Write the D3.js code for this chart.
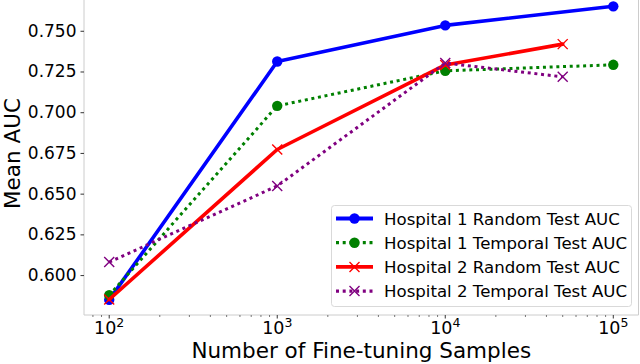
<!DOCTYPE html>
<html>
<head>
<meta charset="utf-8">
<script src="https://cdn.jsdelivr.net/npm/d3@7"></script>
<style>
  html, body { margin: 0; padding: 0; background: #fff; }
  svg text { font-family: "DejaVu Sans", sans-serif; fill: #000; }
</style>
</head>
<body>
<div id="viz"></div>
<script>
"use strict";

// samples used for fine-tuning
var samplesH1 = [100, 1000, 10000, 100000];
var samplesH2 = [100, 1000, 10000, 50000];

// mean AUC
var h1Random = [0.5848, 0.7311, 0.7533, 0.7650];
var h1Temporal = [0.5876, 0.7039, 0.7254, 0.7291];
var h2Random = [0.5850, 0.6771, 0.7290, 0.7418];
var h2Temporal = [0.6080, 0.6547, 0.7302, 0.7217];

var seriesNames = [
	"Hospital 1 Random Test AUC",
	"Hospital 1 Temporal Test AUC",
	"Hospital 2 Random Test AUC",
	"Hospital 2 Temporal Test AUC"
];

var yTicks = [0.600, 0.625, 0.650, 0.675, 0.700, 0.725, 0.750];
var xTicks = [100, 1000, 10000, 100000];

var width = 640,
	height = 364,
	plotLeft = 84,
	plotRight = 638.5,
	plotTop = -8,
	plotBottom = 315;

var svg = d3.select("#viz")
	.append("svg")
	.attr("width", width)
	.attr("height", height);

var x = d3.scaleLog()
	.domain([Math.pow(10, 1.85), Math.pow(10, 5.15)])
	.range([plotLeft, plotRight]);

var y = d3.scaleLinear()
	.domain([0.5755, 0.7738])
	.range([plotBottom, plotTop]);

var series = [
	{ name: seriesNames[0], xs: samplesH1, ys: h1Random, color: "#0000ff", dotted: false, marker: "o" },
	{ name: seriesNames[1], xs: samplesH1, ys: h1Temporal, color: "#008000", dotted: true, marker: "o" },
	{ name: seriesNames[2], xs: samplesH2, ys: h2Random, color: "#ff0000", dotted: false, marker: "x" },
	{ name: seriesNames[3], xs: samplesH2, ys: h2Temporal, color: "#800080", dotted: true, marker: "x" }
];

// spines
var spineColor = "#cccccc";
svg.append("line")
	.attr("x1", plotLeft).attr("x2", plotLeft)
	.attr("y1", plotTop).attr("y2", plotBottom)
	.attr("stroke", spineColor).attr("stroke-width", 1);
svg.append("line")
	.attr("x1", plotLeft).attr("x2", plotRight)
	.attr("y1", plotBottom).attr("y2", plotBottom)
	.attr("stroke", spineColor).attr("stroke-width", 1);
svg.append("line")
	.attr("x1", plotRight).attr("x2", plotRight)
	.attr("y1", plotTop).attr("y2", plotBottom)
	.attr("stroke", spineColor).attr("stroke-width", 1);

// y axis
var yAxis = svg.append("g")
	.attr("transform", "translate(" + plotLeft + ",0)")
	.call(d3.axisLeft(y).tickValues(yTicks).tickSize(3.5).tickPadding(4)
		.tickFormat(d3.format(".3f")));
yAxis.select(".domain").remove();
yAxis.selectAll(".tick line").attr("stroke", "#333");
yAxis.selectAll(".tick text")
	.attr("font-size", "17px")
	.attr("font-family", "DejaVu Sans")
	.attr("fill", "#000");

// x axis: minor ticks
var minorTicks = [];
[10, 100, 1000, 10000, 100000].forEach(function(decade) {
	for (var k = 2; k <= 9; k++) {
		var v = decade * k;
		if (x(v) > plotLeft && x(v) < plotRight) minorTicks.push(v);
	}
});

svg.append("g").selectAll("line")
	.data(minorTicks)
	.enter()
	.append("line")
	.attr("x1", function(d) { return x(d); })
	.attr("x2", function(d) { return x(d); })
	.attr("y1", plotBottom)
	.attr("y2", plotBottom + 2)
	.attr("stroke", "#555")
	.attr("stroke-width", 0.8);

var xMajor = svg.append("g").selectAll("g")
	.data(xTicks)
	.enter()
	.append("g")
	.attr("transform", function(d) { return "translate(" + x(d) + "," + plotBottom + ")"; });

xMajor.append("line")
	.attr("y1", 0).attr("y2", 3.5)
	.attr("stroke", "#333").attr("stroke-width", 1);

var xLabel = xMajor.append("text")
	.attr("y", 19)
	.attr("text-anchor", "middle")
	.attr("font-size", "17.5px");
xLabel.append("tspan").text("10");
xLabel.append("tspan")
	.attr("dy", -7.5)
	.attr("font-size", "12.5px")
	.text(function(d) { return Math.round(Math.log10(d)); });

// axis titles
svg.append("text")
	.attr("x", (plotLeft + plotRight) / 2)
	.attr("y", 358)
	.attr("text-anchor", "middle")
	.attr("font-size", "21.5px")
	.text("Number of Fine-tuning Samples");

svg.append("text")
	.attr("transform", "translate(20," + ((plotTop + plotBottom) / 2) + ") rotate(-90)")
	.attr("text-anchor", "middle")
	.attr("font-size", "21.5px")
	.text("Mean AUC");

// lines and markers
var line = d3.line()
	.x(function(d) { return x(d[0]); })
	.y(function(d) { return y(d[1]); });

var drawMarker = function(g, s, cx, cy) {
	if (s.marker === "o") {
		g.append("circle")
			.attr("cx", cx).attr("cy", cy).attr("r", 5.2)
			.attr("fill", s.color);
	} else {
		var r = 5;
		g.append("path")
			.attr("d", "M" + (cx - r) + "," + (cy - r) + "L" + (cx + r) + "," + (cy + r) +
				"M" + (cx - r) + "," + (cy + r) + "L" + (cx + r) + "," + (cy - r))
			.attr("stroke", s.color)
			.attr("stroke-width", 1.4)
			.attr("fill", "none");
	}
};

var plot = svg.append("g");

series.forEach(function(s) {
	var pts = s.xs.map(function(v, i) { return [v, s.ys[i]]; });
	var g = plot.append("g");
	g.append("path")
		.attr("d", line(pts))
		.attr("fill", "none")
		.attr("stroke", s.color)
		.attr("stroke-width", s.dotted ? 3 : 3.6)
		.attr("stroke-linejoin", "round")
		.attr("stroke-linecap", s.dotted ? "butt" : "round")
		.attr("stroke-dasharray", s.dotted ? "3,3.7" : null);
	pts.forEach(function(p) {
		drawMarker(g, s, x(p[0]), y(p[1]));
	});
});

// legend
var legend = svg.append("g");
legend.append("rect")
	.attr("x", 331.5).attr("y", 205.5)
	.attr("width", 300).attr("height", 101)
	.attr("rx", 3).attr("ry", 3)
	.attr("fill", "#fff").attr("fill-opacity", 0.8)
	.attr("stroke", "#d9d9d9").attr("stroke-width", 1);

series.forEach(function(s, i) {
	var cy = 218.5 + i * 24.2;
	var g = legend.append("g");
	g.append("line")
		.attr("x1", 336).attr("x2", 373)
		.attr("y1", cy).attr("y2", cy)
		.attr("stroke", s.color)
		.attr("stroke-width", s.dotted ? 3.2 : 3.8)
		.attr("stroke-dasharray", s.dotted ? "3,3.7" : null);
	drawMarker(g, s, 354.5, cy);
	g.append("text")
		.attr("x", 384)
		.attr("y", cy + 6)
		.attr("font-size", "16.6px")
		.text(s.name);
});
</script>
</body>
</html>
